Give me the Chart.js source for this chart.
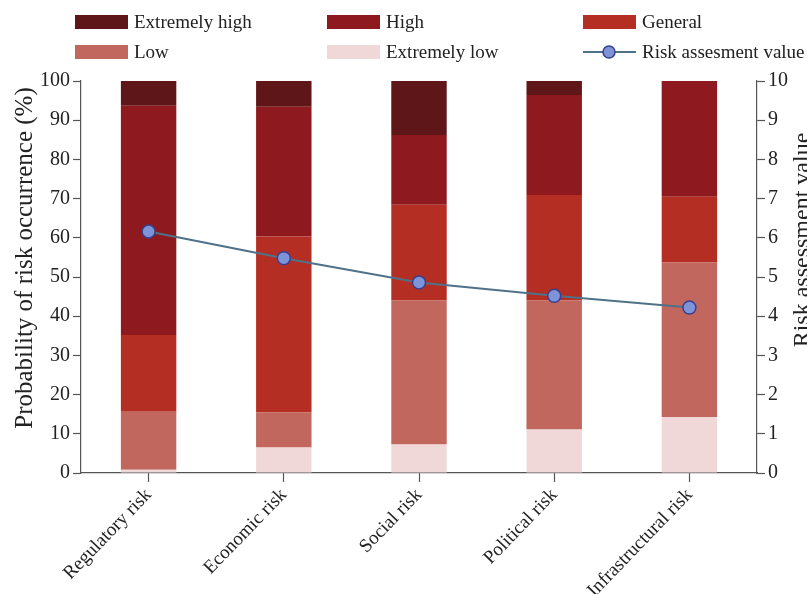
<!DOCTYPE html>
<html>
<head>
<meta charset="utf-8">
<script src="https://cdn.jsdelivr.net/npm/chart.js@4"></script>
<style>
  html, body { margin: 0; padding: 0; background: #fff; }
  #wrap { width: 807px; height: 594px; }
</style>
</head>
<body>
<div id="wrap"><canvas id="risk" width="807" height="594"></canvas></div>
<script>
const categories = ['Regulatory risk', 'Economic risk', 'Social risk', 'Political risk', 'Infrastructural risk'];
const extremelyLow = [0.8, 6.5, 7.3, 11.1, 14.2];
const low = [14.8, 9.0, 36.8, 33.0, 39.5];
const general = [19.6, 44.8, 24.3, 26.8, 16.8];
const high = [58.5, 33.1, 17.8, 25.5, 29.5];
const extremelyHigh = [6.3, 6.6, 13.8, 3.6, 0];
const riskValue = [6.16, 5.48, 4.86, 4.52, 4.22];
const leftTicks = [0, 10, 20, 30, 40, 50, 60, 70, 80, 90, 100];
const rightTicks = [0, 1, 2, 3, 4, 5, 6, 7, 8, 9, 10];

const FONT = '"Liberation Serif", "DejaVu Serif", serif';
const axisColor = '#555';

const barSet = (label, data, color) => ({
  type: 'bar', label, data, backgroundColor: color,
  yAxisID: 'y', stack: 's', order: 1,
  barPercentage: 0.41, categoryPercentage: 1
});

const legendItems = [
  { text: 'Extremely high', color: '#5e1619', col: 0, row: 0 },
  { text: 'High', color: '#8e1a1f', col: 1, row: 0 },
  { text: 'General', color: '#b52e23', col: 2, row: 0 },
  { text: 'Low', color: '#c1675d', col: 0, row: 1 },
  { text: 'Extremely low', color: '#f0d8d8', col: 1, row: 1 },
  { text: 'Risk assesment value', line: true, col: 2, row: 1 }
];

// rotated title reading bottom to top, baseline at x
function sideTitle(ctx, text, x, y, size) {
  ctx.save();
  ctx.translate(x, y);
  ctx.rotate(-Math.PI / 2);
  ctx.textAlign = 'center';
  ctx.textBaseline = 'alphabetic';
  ctx.font = size + 'px ' + FONT;
  ctx.fillStyle = '#222';
  ctx.fillText(text, 0, 0);
  ctx.restore();
}

const extras = {
  id: 'extras',
  afterDraw(chart) {
    const ctx = chart.ctx;
    const colX = [75, 327, 583];
    const rowY = [22, 52];
    ctx.save();
    ctx.font = '19px ' + FONT;
    ctx.textBaseline = 'middle';
    legendItems.forEach(it => {
      const x = colX[it.col], y = rowY[it.row];
      if (it.line) {
        ctx.strokeStyle = '#4f7289';
        ctx.lineWidth = 2;
        ctx.beginPath(); ctx.moveTo(x, y); ctx.lineTo(x + 53, y); ctx.stroke();
        ctx.beginPath(); ctx.arc(x + 26, y, 6, 0, Math.PI * 2);
        ctx.fillStyle = '#7f93d9'; ctx.fill();
        ctx.strokeStyle = '#3a3f8c'; ctx.lineWidth = 1.5; ctx.stroke();
      } else {
        ctx.fillStyle = it.color;
        ctx.fillRect(x, y - 7, 53, 14);
      }
      ctx.fillStyle = '#222';
      ctx.fillText(it.text, x + 59, y + 1);
    });
    ctx.restore();
    sideTitle(ctx, 'Probability of risk occurrence (%)', 32, 258, 25);
    sideTitle(ctx, 'Risk assessment value', 809, 240, 24);
  }
};

new Chart(document.getElementById('risk'), {
  data: {
    labels: categories,
    datasets: [
      {
        type: 'line', label: 'Risk assesment value', data: riskValue, yAxisID: 'y1', order: 0,
        borderColor: '#4f7289', borderWidth: 2, tension: 0,
        pointRadius: 6.5, pointBackgroundColor: '#7f93d9', pointBorderColor: '#3a3f8c', pointBorderWidth: 1.5
      },
      barSet('Extremely low', extremelyLow, '#f0d8d8'),
      barSet('Low', low, '#c1675d'),
      barSet('General', general, '#b52e23'),
      barSet('High', high, '#8e1a1f'),
      barSet('Extremely high', extremelyHigh, '#5e1619')
    ]
  },
  options: {
    responsive: false,
    animation: false,
    layout: { padding: { top: 81, left: 0, right: 0, bottom: 0 } },
    plugins: { legend: { display: false }, tooltip: { enabled: false } },
    scales: {
      x: {
        stacked: true,
        grid: { offset: false, drawOnChartArea: false, color: axisColor, tickLength: 9, tickWidth: 1.2 },
        border: { color: axisColor, width: 1.2 },
        ticks: { color: '#222', font: { family: FONT, size: 19 }, minRotation: 46, maxRotation: 46, padding: 2 },
        afterFit(scale) { scale.height = 121; }
      },
      y: {
        stacked: true, position: 'left', min: 0, max: 100,
        afterBuildTicks(scale) { scale.ticks = leftTicks.map(v => ({ value: v })); },
        grid: { drawOnChartArea: false, color: axisColor, tickLength: 8, tickWidth: 1.2 },
        border: { color: axisColor, width: 1.2 },
        ticks: { color: '#222', font: { family: FONT, size: 20 }, padding: 3 },
        afterFit(scale) { scale.width = 81; }
      },
      y1: {
        position: 'right', min: 0, max: 10,
        afterBuildTicks(scale) { scale.ticks = rightTicks.map(v => ({ value: v })); },
        grid: { drawOnChartArea: false, color: axisColor, tickLength: 8, tickWidth: 1.2 },
        border: { color: axisColor, width: 1.2 },
        ticks: { color: '#222', font: { family: FONT, size: 20 }, padding: 3 },
        afterFit(scale) { scale.width = 50; }
      }
    }
  },
  plugins: [extras]
});
</script>
</body>
</html>
